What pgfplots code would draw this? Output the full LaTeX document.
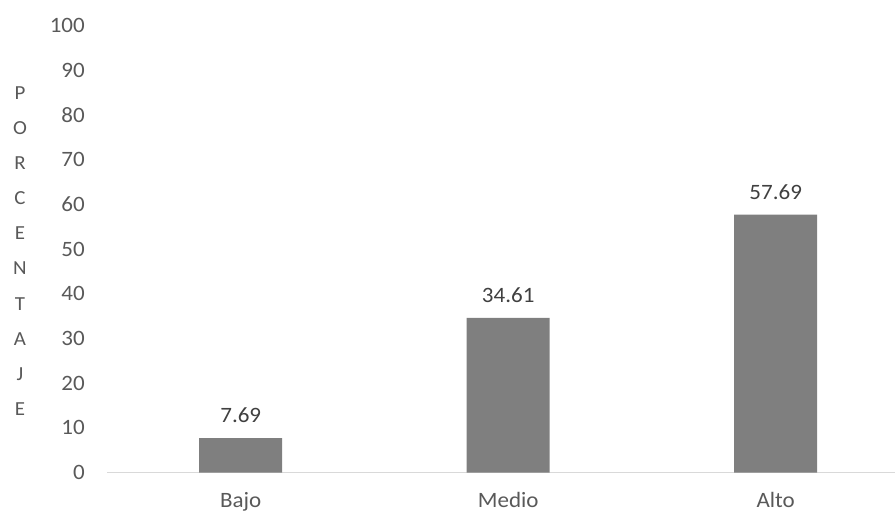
\documentclass[border=0pt]{standalone}
\usepackage{fontspec}
\setmainfont{Carlito}[FakeStretch=1.05]
\usepackage{pgfplots}
\pgfplotsset{compat=1.18}
\definecolor{barc}{HTML}{7F7F7F}
\definecolor{tickc}{HTML}{595959}
\definecolor{labc}{HTML}{404040}
\definecolor{axc}{HTML}{D9D9D9}
\begin{document}
\begin{tikzpicture}
\path[use as bounding box] (0,0) rectangle (895bp,513bp);
\begin{axis}[
  at={(107bp,40.5bp)}, anchor=south west,
  scale only axis, width=788bp, height=447bp,
  xmin=-0.5, xmax=2.446, ymin=0, ymax=100,
  ytick={0,10,...,100},
  xtick={0,1,2}, xticklabels={Bajo,Medio,Alto},
  axis x line=bottom, axis y line=left,
  x axis line style={-, draw=axc, line width=1.5bp},
  y axis line style={draw=none},
  major tick length=0pt,
  tick label style={font=\fontsize{22}{26}\selectfont, text=tickc, inner sep=0pt},
  /pgf/number format/assume math mode=true,
  yticklabel style={anchor=east, xshift=-22bp},
  xticklabel style={anchor=north, yshift=-20bp},
  ybar, bar width=83bp,
  nodes near coords,
  nodes near coords style={font=\fontsize{22}{26}\selectfont, text=labc, inner sep=0pt, anchor=south, yshift=15bp},
  point meta=explicit symbolic,
  clip=false,
]
\addplot[fill=barc, draw=none] coordinates {(0,7.69) [7.69] (1,34.61) [34.61] (2,57.69) [57.69]};
\end{axis}
\node[text=tickc, font=\fontsize{20}{35.3}\selectfont, align=center, text width=30bp] at (20bp,262bp)
  {P\\O\\R\\C\\E\\N\\T\\A\\J\\E};
\end{tikzpicture}
\end{document}
